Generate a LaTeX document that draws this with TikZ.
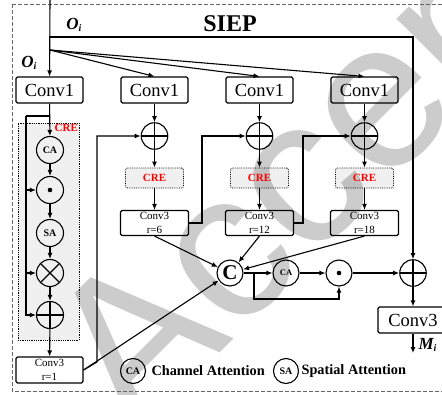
\documentclass[tikz,border=0pt]{standalone}
\usepackage{fontspec}
\setmainfont{Liberation Serif}
\newfontfamily\wmfont{Liberation Sans}
\usetikzlibrary{arrows.meta,calc}

\begin{document}
\begin{tikzpicture}[x=1pt,y=-1pt,line width=1.1pt,
  >={Latex[length=6pt,width=5pt]},
  box/.style={draw,rounded corners=1.5pt,minimum width=67pt,minimum height=26pt,
    inner sep=0pt,font=\fontsize{18.5}{20}\selectfont},
  sbox/.style={draw,rounded corners=1.5pt,minimum width=68pt,minimum height=25pt,
    inner sep=0pt,align=center,font=\fontsize{11}{13.5}\selectfont},
  crebox/.style={draw,densely dotted,line width=0.8pt,rounded corners=2pt,
    fill=black,fill opacity=0.06,text opacity=1,minimum width=58pt,minimum height=20pt,
    inner sep=0pt,text=red,font=\bfseries\fontsize{11}{12}\selectfont},
  op/.style={circle,draw,minimum size=27pt,inner sep=0pt},
  oplus/.style={op,path picture={\draw (path picture bounding box.north) -- (path picture bounding box.south)
      (path picture bounding box.west) -- (path picture bounding box.east);}},
  otimes/.style={op,path picture={\draw (path picture bounding box.north west) -- (path picture bounding box.south east)
      (path picture bounding box.north east) -- (path picture bounding box.south west);}},
  odot/.style={op,path picture={\fill (path picture bounding box.center) circle (2.3pt);}},
  att/.style={circle,draw,minimum size=27pt,inner sep=0pt,font=\bfseries\fontsize{10}{10}\selectfont},
  lbl/.style={inner sep=0pt,font=\bfseries\itshape\fontsize{17}{17}\selectfont},
  legtxt/.style={anchor=west,inner sep=0pt,font=\bfseries\fontsize{14.3}{15}\selectfont}]

\useasboundingbox (0,0) rectangle (442,394);

% watermark
\node[inner sep=0pt,anchor=base west,rotate=45,text=black!20,
  font=\wmfont\fontsize{210}{210}\selectfont] (wm) at (135,438) {Accepted};

% outer frame
\draw[gray!80!black,line width=1pt,dash pattern=on 4pt off 2pt] (12,4) rectangle (443,391);

\node[font=\bfseries\fontsize{24}{24}\selectfont] (title) at (230,24) {SIEP};
\node[lbl] (oi1) at (74,25) {O\raisebox{-2pt}{\fontsize{10}{10}\selectfont i}};
\node[lbl] (oi2) at (29,63) {O\raisebox{-2pt}{\fontsize{10}{10}\selectfont i}};

% first row of 1x1 convolutions
\node[box] (c1a) at (49.5,90) {Conv1};
\node[box] (c1b) at (154.5,90) {Conv1};
\node[box] (c1c) at (259.5,90) {Conv1};
\node[box] (c1d) at (364.5,90) {Conv1};

% left CRE column
\node[draw,densely dotted,line width=0.8pt,fill=black,fill opacity=0.06,
  minimum width=61pt,minimum height=217pt,inner sep=0pt] (creL) at (48.5,231.5) {};
\node[anchor=north east,inner sep=1pt,text=red,font=\bfseries\fontsize{11}{11}\selectfont] (creLt)
  at (creL.north east) {CRE};
\node[att] (caL) at (50,150) {CA};
\node[odot] (dotL) at (50,190) {};
\node[att] (saL) at (50,233) {SA};
\node[otimes] (otL) at (50,273) {};
\node[oplus] (plL) at (50,315) {};
\node[sbox,minimum width=67pt,minimum height=26pt] (r1) at (49.5,370) {Conv3\\r=1};

% dilated branches
\foreach \n/\x/\r in {b/154.5/6,c/259.5/12,d/364.5/18}{
  \node[oplus,minimum size=26.5pt] (p\n) at (\x,136) {};
  \node[crebox] (cre\n) at (\x,178) {CRE};
  \node[sbox] (r\n) at (\x,223) {Conv3\\r=\r};
  \draw[->] (c1\n) -- (p\n);
  \draw[->] (p\n) -- (cre\n);
  \draw[->] (cre\n) -- (r\n);
}

% fusion row
\node[op,minimum size=26pt,font=\bfseries\fontsize{21}{21}\selectfont] (C) at (230,273) {C};
\node[att,minimum size=26pt,font=\bfseries\fontsize{8.5}{9}\selectfont] (cab) at (286,273) {CA};
\node[odot,minimum size=26pt] (dotb) at (339,273) {};
\node[oplus,minimum size=26.5pt] (pf) at (413,273) {};
\node[box,minimum width=70pt] (fin) at (413,320) {Conv3};
\node[lbl,anchor=west] (mi) at (418,345) {M\raisebox{-2pt}{\fontsize{10}{10}\selectfont i}};

% legend
\node[att,minimum size=25pt] (lca) at (133,371) {CA};
\node[legtxt] (lcat) at (151,371) {Channel Attention};
\node[att,minimum size=25pt] (lsa) at (286,371) {SA};
\node[legtxt] (lsat) at (301,371) {Spatial Attention};

% input distribution
\coordinate (top) at (50,0);
\coordinate (bp) at (50,50);
\coordinate (hb) at (50,37);
\draw[->] (top) -- (c1a);
\draw[->] (hb) -| (pf);
\draw[->] (bp) -- (c1b.north);
\draw[->] (bp) -- (c1c.north);
\draw[->] (bp) -- (c1d.north);

% left CRE path
\coordinate (fb) at (26,116);
\draw (c1a.south |- fb) -- (fb);
\draw[->] (c1a) -- (caL);
\draw[->] (caL) -- (dotL);
\draw[->] (dotL) -- (saL);
\draw[->] (saL) -- (otL);
\draw[->] (otL) -- (plL);
\draw[->] (plL) -- (r1);
\draw[->] (fb) |- (dotL.west);
\draw[->] (fb) |- (otL.west);
\draw[->] (fb) |- (plL.west);

% cascade links between branches
\coordinate (k1) at (97,362);
\coordinate (k6) at (202,223);
\coordinate (k12) at (303,223);
\draw[->] (r1.east) -- (k1) |- (pb.west);
\draw[->] (rb.east) -- (k6) |- (pc.west);
\draw[->] (rc.east) -- (k12) |- (pd.west);

% concatenation inputs
\draw[->] (r1.east) -- (C);
\draw[->] (rb.south) -- (C);
\draw[->] (rc.south) -- (C);
\draw[->] (rd.south) -- (C);

% attention fusion
\coordinate (sk) at (254,273);
\coordinate (sk2) at (254,299);
\draw[->] (C) -- (cab);
\draw[->] (cab) -- (dotb);
\draw[->] (sk) -- (sk2) -| (dotb.south);
\draw[->] (dotb) -- (pf);
\draw[->] (pf) -- (fin);
\coordinate (mo) at (413,353);
\draw[->] (fin.south) -- (mo);
\end{tikzpicture}
\end{document}
